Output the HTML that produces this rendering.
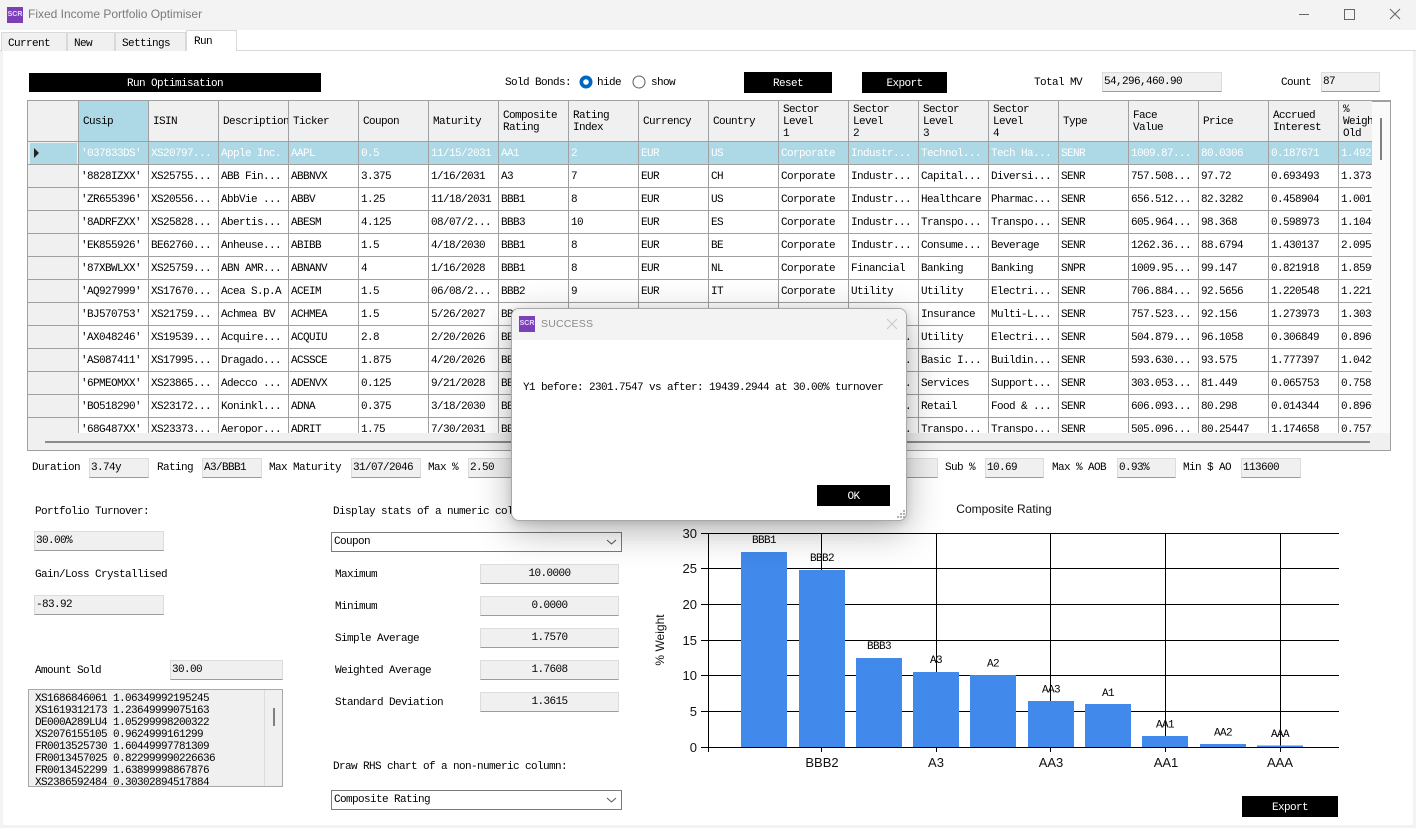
<!DOCTYPE html>
<html><head><meta charset="utf-8">
<style>
*{margin:0;padding:0;box-sizing:border-box}
html,body{width:1416px;height:828px;overflow:hidden;background:#fff;position:relative}
.t{position:absolute;font-family:"Liberation Mono",monospace;font-size:11px;letter-spacing:-0.6px;line-height:12px;padding-top:1px;white-space:pre;color:#000}
.btn{position:absolute;background:#000;color:#fff;font-family:"Liberation Mono",monospace;font-size:11px;letter-spacing:-0.6px;display:flex;align-items:center;justify-content:center;white-space:pre;padding-top:2px}
.vb{position:absolute;background:#f0f0f0;border:1px solid #dcdcdc;border-bottom:1px solid #9c9c9c;font-family:"Liberation Mono",monospace;font-size:11px;letter-spacing:-0.6px;line-height:19px;padding-left:1px;white-space:pre;color:#000}
.vbc{text-align:center;padding-left:0}
.tab{position:absolute;background:#f0f0f0;border:1px solid #d9d9d9;border-bottom:none;font-family:"Liberation Mono",monospace;font-size:11px;letter-spacing:-0.6px;line-height:12px;white-space:pre}
.grid{position:absolute;left:28px;top:101px;width:1344px;height:332px;overflow:hidden;background:#fff}
.r{display:flex;height:23px;flex:none}
.r>div{flex:none;width:70px;height:23px;border-right:1px solid #a0a0a0;border-bottom:1px solid #a0a0a0;font-family:"Liberation Mono",monospace;font-size:11px;letter-spacing:-0.6px;line-height:24px;padding-left:2px;white-space:pre;overflow:hidden;color:#000}
.r>div.h{width:51px;background:#f0f0f0;padding:0}
.r.sel>div{background:#add8e6;color:#fff}
.r.sel>div.h{background:#f0f0f0;position:relative}
.hd{display:flex;height:41px}
.hd>div{flex:none;width:70px;height:41px;border-right:1px solid #a0a0a0;border-bottom:1px solid #a0a0a0;background:#f0f0f0;font-family:"Liberation Mono",monospace;font-size:11px;letter-spacing:-0.6px;line-height:11.7px;padding-left:4px;padding-top:4px;white-space:pre;overflow:hidden;display:flex;align-items:center}
.hd>div.h{width:51px;padding:0}
.combo{position:absolute;background:#fff;border:1px solid #7a7a7a;font-family:"Liberation Mono",monospace;font-size:11px;letter-spacing:-0.6px;line-height:19px;padding-left:2px;white-space:pre}
</style></head><body>

<!-- title bar -->
<div style="position:absolute;left:0;top:0;width:1416px;height:30px;background:#f3f3f3"></div>
<div style="position:absolute;left:7px;top:7px;width:16px;height:16px;background:#7b3fb8;color:#e8d8ff;font:bold 7px 'Liberation Sans',sans-serif;line-height:16px;text-align:center">SCR</div>
<div style="position:absolute;left:28px;top:7px;font:12px 'Liberation Sans',sans-serif;color:#7a7a7a;white-space:pre">Fixed Income Portfolio Optimiser</div>
<svg style="position:absolute;left:0;top:0" width="1416" height="30">
<line x1="1299" y1="14.5" x2="1309" y2="14.5" stroke="#666" stroke-width="1"/>
<rect x="1344.5" y="9.5" width="10" height="10" fill="none" stroke="#666" stroke-width="1"/>
<path d="M1390 9 L1400 19 M1400 9 L1390 19" stroke="#666" stroke-width="1"/>
</svg>

<!-- tabs -->
<div style="position:absolute;left:0;top:50px;width:1416px;height:1px;background:#d9d9d9"></div>
<div style="position:absolute;left:0;top:51px;width:3px;height:777px;background:#f3f3f3"></div>
<div style="position:absolute;left:1413px;top:51px;width:3px;height:777px;background:#f3f3f3"></div>
<div style="position:absolute;left:0;top:825px;width:1416px;height:3px;background:#f3f3f3"></div>
<div class="tab" style="left:1px;top:32px;width:66px;height:19px;padding:5px 0 0 6px">Current</div>
<div class="tab" style="left:67px;top:32px;width:48px;height:19px;padding:5px 0 0 6px">New</div>
<div class="tab" style="left:115px;top:32px;width:71px;height:19px;padding:5px 0 0 6px">Settings</div>
<div class="tab" style="left:186px;top:30px;width:51px;height:21px;padding:5px 0 0 7px;background:#fff">Run</div>

<!-- top controls -->
<div class="btn" style="left:29px;top:73px;width:292px;height:19px">Run Optimisation</div>
<div class="t" style="left:505px;top:76px">Sold Bonds:</div>
<svg style="position:absolute;left:578px;top:74px" width="80" height="16">
<circle cx="8" cy="8" r="6.5" fill="#0067c0"/><circle cx="8" cy="8" r="2.8" fill="#fff"/>
<circle cx="61" cy="8" r="6" fill="#fff" stroke="#5c5c5c" stroke-width="1"/>
</svg>
<div class="t" style="left:597px;top:76px">hide</div>
<div class="t" style="left:651px;top:76px">show</div>
<div class="btn" style="left:744px;top:72px;width:88px;height:21px">Reset</div>
<div class="btn" style="left:862px;top:72px;width:85px;height:21px">Export</div>
<div class="t" style="left:1034px;top:76px">Total MV</div>
<div class="vb" style="left:1102px;top:72px;width:120px;height:20px">54,296,460.90</div>
<div class="t" style="left:1281px;top:76px">Count</div>
<div class="vb" style="left:1321px;top:72px;width:59px;height:20px">87</div>

<!-- grid frame -->
<div style="position:absolute;left:27px;top:100px;width:1364px;height:351px;border:1px solid #a0a0a0;border-top:2px solid #a0a0a0;background:#f0f0f0"></div>
<div style="position:absolute;left:1372px;top:102px;width:18px;height:331px;background:#fafafa"></div>
<div style="position:absolute;left:1380px;top:118px;width:2px;height:42px;background:#808080"></div>
<div style="position:absolute;left:45px;top:441px;width:1325px;height:2px;background:#8c8c8c"></div>

<div class="grid">
<div class="hd"><div class="h"></div><div style="background:#add8e6">Cusip</div><div>ISIN</div><div>Description</div><div>Ticker</div><div>Coupon</div><div>Maturity</div><div>Composite
Rating</div><div>Rating
Index</div><div>Currency</div><div>Country</div><div>Sector
Level
1</div><div>Sector
Level
2</div><div>Sector
Level
3</div><div>Sector
Level
4</div><div>Type</div><div>Face
Value</div><div>Price</div><div>Accrued
Interest</div><div>%
Weight
Old</div></div>
<div class="r sel"><div class="h"><div style="position:absolute;left:2px;top:1px;width:47px;height:21px;background:#add8e6"></div><div style="position:absolute;left:6px;top:6px;width:0;height:0;border-left:5px solid #222;border-top:5px solid transparent;border-bottom:5px solid transparent"></div></div><div>'037833DS'</div><div>XS20797...</div><div>Apple Inc.</div><div>AAPL</div><div>0.5</div><div>11/15/2031</div><div>AA1</div><div>2</div><div>EUR</div><div>US</div><div>Corporate</div><div>Industr...</div><div>Technol...</div><div>Tech Ha...</div><div>SENR</div><div>1009.87...</div><div>80.0306</div><div>0.187671</div><div>1.492</div></div>
<div class="r"><div class="h"></div><div>'8828IZXX'</div><div>XS25755...</div><div>ABB Fin...</div><div>ABBNVX</div><div>3.375</div><div>1/16/2031</div><div>A3</div><div>7</div><div>EUR</div><div>CH</div><div>Corporate</div><div>Industr...</div><div>Capital...</div><div>Diversi...</div><div>SENR</div><div>757.508...</div><div>97.72</div><div>0.693493</div><div>1.373</div></div>
<div class="r"><div class="h"></div><div>'ZR655396'</div><div>XS20556...</div><div>AbbVie ...</div><div>ABBV</div><div>1.25</div><div>11/18/2031</div><div>BBB1</div><div>8</div><div>EUR</div><div>US</div><div>Corporate</div><div>Industr...</div><div>Healthcare</div><div>Pharmac...</div><div>SENR</div><div>656.512...</div><div>82.3282</div><div>0.458904</div><div>1.001</div></div>
<div class="r"><div class="h"></div><div>'8ADRFZXX'</div><div>XS25828...</div><div>Abertis...</div><div>ABESM</div><div>4.125</div><div>08/07/2...</div><div>BBB3</div><div>10</div><div>EUR</div><div>ES</div><div>Corporate</div><div>Industr...</div><div>Transpo...</div><div>Transpo...</div><div>SENR</div><div>605.964...</div><div>98.368</div><div>0.598973</div><div>1.1049</div></div>
<div class="r"><div class="h"></div><div>'EK855926'</div><div>BE62760...</div><div>Anheuse...</div><div>ABIBB</div><div>1.5</div><div>4/18/2030</div><div>BBB1</div><div>8</div><div>EUR</div><div>BE</div><div>Corporate</div><div>Industr...</div><div>Consume...</div><div>Beverage</div><div>SENR</div><div>1262.36...</div><div>88.6794</div><div>1.430137</div><div>2.095</div></div>
<div class="r"><div class="h"></div><div>'87XBWLXX'</div><div>XS25759...</div><div>ABN AMR...</div><div>ABNANV</div><div>4</div><div>1/16/2028</div><div>BBB1</div><div>8</div><div>EUR</div><div>NL</div><div>Corporate</div><div>Financial</div><div>Banking</div><div>Banking</div><div>SNPR</div><div>1009.95...</div><div>99.147</div><div>0.821918</div><div>1.8599</div></div>
<div class="r"><div class="h"></div><div>'AQ927999'</div><div>XS17670...</div><div>Acea S.p.A</div><div>ACEIM</div><div>1.5</div><div>06/08/2...</div><div>BBB2</div><div>9</div><div>EUR</div><div>IT</div><div>Corporate</div><div>Utility</div><div>Utility</div><div>Electri...</div><div>SENR</div><div>706.884...</div><div>92.5656</div><div>1.220548</div><div>1.221</div></div>
<div class="r"><div class="h"></div><div>'BJ570753'</div><div>XS21759...</div><div>Achmea BV</div><div>ACHMEA</div><div>1.5</div><div>5/26/2027</div><div>BBB1</div><div>8</div><div>EUR</div><div>NL</div><div>Corporate</div><div>Financial</div><div>Insurance</div><div>Multi-L...</div><div>SENR</div><div>757.523...</div><div>92.156</div><div>1.273973</div><div>1.3039</div></div>
<div class="r"><div class="h"></div><div>'AX048246'</div><div>XS19539...</div><div>Acquire...</div><div>ACQUIU</div><div>2.8</div><div>2/20/2026</div><div>BBB2</div><div>9</div><div>EUR</div><div>ES</div><div>Corporate</div><div>Industr...</div><div>Utility</div><div>Electri...</div><div>SENR</div><div>504.879...</div><div>96.1058</div><div>0.306849</div><div>0.8969</div></div>
<div class="r"><div class="h"></div><div>'AS087411'</div><div>XS17995...</div><div>Dragado...</div><div>ACSSCE</div><div>1.875</div><div>4/20/2026</div><div>BBB2</div><div>9</div><div>EUR</div><div>ES</div><div>Corporate</div><div>Industr...</div><div>Basic I...</div><div>Buildin...</div><div>SENR</div><div>593.630...</div><div>93.575</div><div>1.777397</div><div>1.0429</div></div>
<div class="r"><div class="h"></div><div>'6PMEOMXX'</div><div>XS23865...</div><div>Adecco ...</div><div>ADENVX</div><div>0.125</div><div>9/21/2028</div><div>BBB1</div><div>8</div><div>EUR</div><div>CH</div><div>Corporate</div><div>Industr...</div><div>Services</div><div>Support...</div><div>SENR</div><div>303.053...</div><div>81.449</div><div>0.065753</div><div>0.758</div></div>
<div class="r"><div class="h"></div><div>'BO518290'</div><div>XS23172...</div><div>Koninkl...</div><div>ADNA</div><div>0.375</div><div>3/18/2030</div><div>BBB1</div><div>8</div><div>EUR</div><div>NL</div><div>Corporate</div><div>Industr...</div><div>Retail</div><div>Food &amp; ...</div><div>SENR</div><div>606.093...</div><div>80.298</div><div>0.014344</div><div>0.8969</div></div>
<div class="r"><div class="h"></div><div>'68G487XX'</div><div>XS23373...</div><div>Aeropor...</div><div>ADRIT</div><div>1.75</div><div>7/30/2031</div><div>BBB2</div><div>9</div><div>EUR</div><div>IT</div><div>Corporate</div><div>Industr...</div><div>Transpo...</div><div>Transpo...</div><div>SENR</div><div>505.096...</div><div>80.25447</div><div>1.174658</div><div>0.7579</div></div>
</div>

<!-- stats row -->
<div class="t" style="left:32px;top:461px">Duration</div>
<div class="vb" style="left:89px;top:458px;width:60px;height:20px">3.74y</div>
<div class="t" style="left:157px;top:461px">Rating</div>
<div class="vb" style="left:202px;top:458px;width:60px;height:20px">A3/BBB1</div>
<div class="t" style="left:269px;top:461px">Max Maturity</div>
<div class="vb" style="left:351px;top:458px;width:70px;height:20px">31/07/2046</div>
<div class="t" style="left:428px;top:461px">Max %</div>
<div class="vb" style="left:468px;top:458px;width:60px;height:20px">2.50</div>
<div class="vb" style="left:860px;top:458px;width:78px;height:20px"></div>
<div class="t" style="left:945px;top:461px">Sub %</div>
<div class="vb" style="left:985px;top:458px;width:59px;height:20px">10.69</div>
<div class="t" style="left:1052px;top:461px">Max % AOB</div>
<div class="vb" style="left:1117px;top:458px;width:59px;height:20px">0.93%</div>
<div class="t" style="left:1183px;top:461px">Min $ AO</div>
<div class="vb" style="left:1241px;top:458px;width:60px;height:20px">113600</div>

<!-- left panel -->
<div class="t" style="left:35px;top:505px">Portfolio Turnover:</div>
<div class="vb" style="left:34px;top:531px;width:130px;height:20px">30.00%</div>
<div class="t" style="left:35px;top:568px">Gain/Loss Crystallised</div>
<div class="vb" style="left:34px;top:595px;width:130px;height:20px">-83.92</div>
<div class="t" style="left:35px;top:664px">Amount Sold</div>
<div class="vb" style="left:170px;top:660px;width:113px;height:20px">30.00</div>
<div style="position:absolute;left:28px;top:689px;width:255px;height:98px;background:#f0f0f0;border:1px solid #a8a8a8;overflow:hidden">
<div style="position:absolute;left:235px;top:0;width:1px;height:98px;background:#dcdcdc"></div>
<div style="position:absolute;left:244px;top:18px;width:2px;height:18px;background:#808080"></div>
<div class="t" style="left:6px;top:2px;line-height:12px">XS1686846061 1.06349992195245
XS1619312173 1.23649999075163
DE000A289LU4 1.05299998200322
XS2076155105 0.9624999161299
FR0013525730 1.60449997781309
FR0013457025 0.822999990226636
FR0013452299 1.63899998867876
XS2386592484 0.30302894517884</div>
</div>

<!-- middle panel -->
<div class="t" style="left:333px;top:505px">Display stats of a numeric column:</div>
<div class="combo" style="left:331px;top:532px;width:291px;height:20px">Coupon</div>
<svg style="position:absolute;left:606px;top:538px" width="12" height="8"><polyline points="1,2 5.5,6 10,2" fill="none" stroke="#555" stroke-width="1"/></svg>
<div class="t" style="left:335px;top:568px">Maximum</div>
<div class="vb vbc" style="left:480px;top:564px;width:139px;height:20px">10.0000</div>
<div class="t" style="left:335px;top:600px">Minimum</div>
<div class="vb vbc" style="left:480px;top:596px;width:139px;height:20px">0.0000</div>
<div class="t" style="left:335px;top:632px">Simple Average</div>
<div class="vb vbc" style="left:480px;top:628px;width:139px;height:20px">1.7570</div>
<div class="t" style="left:335px;top:664px">Weighted Average</div>
<div class="vb vbc" style="left:480px;top:660px;width:139px;height:20px">1.7608</div>
<div class="t" style="left:335px;top:696px">Standard Deviation</div>
<div class="vb vbc" style="left:480px;top:692px;width:139px;height:20px">1.3615</div>
<div class="t" style="left:333px;top:760px">Draw RHS chart of a non-numeric column:</div>
<div class="combo" style="left:331px;top:790px;width:291px;height:20px">Composite Rating</div>
<svg style="position:absolute;left:606px;top:796px" width="12" height="8"><polyline points="1,2 5.5,6 10,2" fill="none" stroke="#555" stroke-width="1"/></svg>

<!-- chart -->
<svg style="position:absolute;left:0;top:0" width="1416" height="828">
<text x="1004" y="513" text-anchor="middle" font-family="Liberation Sans,sans-serif" font-size="12" fill="#111">Composite Rating</text>
<g stroke="#000" stroke-width="1" shape-rendering="crispEdges">
<line x1="701" y1="533.5" x2="1339" y2="533.5"/>
<line x1="701" y1="568.5" x2="1339" y2="568.5"/>
<line x1="701" y1="604.5" x2="1339" y2="604.5"/>
<line x1="701" y1="640.5" x2="1339" y2="640.5"/>
<line x1="701" y1="675.5" x2="1339" y2="675.5"/>
<line x1="701" y1="711.5" x2="1339" y2="711.5"/>
<line x1="701" y1="747.5" x2="1339" y2="747.5"/>
<line x1="708.5" y1="533" x2="708.5" y2="752"/>
<line x1="821.5" y1="533" x2="821.5" y2="752"/>
<line x1="936.5" y1="533" x2="936.5" y2="752"/>
<line x1="1050.5" y1="533" x2="1050.5" y2="752"/>
<line x1="1165.5" y1="533" x2="1165.5" y2="752"/>
<line x1="1280.5" y1="533" x2="1280.5" y2="752"/>
</g>
<g fill="#4189ea" shape-rendering="crispEdges">
<rect x="741" y="552" width="46" height="195"/>
<rect x="799" y="570" width="46" height="177"/>
<rect x="856" y="658" width="46" height="89"/>
<rect x="913" y="672" width="46" height="75"/>
<rect x="970" y="675" width="46" height="72"/>
<rect x="1028" y="701" width="46" height="46"/>
<rect x="1085" y="704" width="46" height="43"/>
<rect x="1142" y="736" width="46" height="11"/>
<rect x="1200" y="744" width="46" height="3"/>
<rect x="1257" y="745.5" width="46" height="1.5"/>
</g>
<g font-family="Liberation Mono,monospace" font-size="11" letter-spacing="-0.6" text-anchor="middle" fill="#000">
<text x="764" y="543">BBB1</text>
<text x="822" y="561">BBB2</text>
<text x="879" y="649">BBB3</text>
<text x="936" y="663">A3</text>
<text x="993" y="666.5">A2</text>
<text x="1051" y="692.5">AA3</text>
<text x="1108" y="696">A1</text>
<text x="1165" y="727.5">AA1</text>
<text x="1223" y="735.5">AA2</text>
<text x="1280" y="737">AAA</text>
</g>
<g font-family="Liberation Sans,sans-serif" font-size="13" fill="#111" text-anchor="end">
<text x="697" y="538">30</text>
<text x="697" y="573">25</text>
<text x="697" y="609">20</text>
<text x="697" y="645">15</text>
<text x="697" y="680">10</text>
<text x="697" y="716">5</text>
<text x="697" y="752">0</text>
</g>
<g font-family="Liberation Sans,sans-serif" font-size="13" fill="#111" text-anchor="middle">
<text x="822" y="767">BBB2</text>
<text x="936" y="767">A3</text>
<text x="1051" y="767">AA3</text>
<text x="1166" y="767">AA1</text>
<text x="1280" y="767">AAA</text>
</g>
<text transform="translate(664,640) rotate(-90)" text-anchor="middle" font-family="Liberation Sans,sans-serif" font-size="12" fill="#111">% Weight</text>
</svg>
<div class="btn" style="left:1242px;top:796px;width:96px;height:21px">Export</div>

<!-- dialog -->
<div style="position:absolute;left:511px;top:308px;width:396px;height:213px;border-radius:8px;background:#fff;border:1px solid #a8a8a8;box-shadow:0 10px 36px rgba(0,0,0,0.30),0 2px 8px rgba(0,0,0,0.12);overflow:hidden">
<div style="position:absolute;left:0;top:0;width:396px;height:31px;background:#f3f3f3"></div>
<div style="position:absolute;left:7px;top:7px;width:16px;height:16px;background:#7b3fb8;color:#e8d8ff;font:bold 7px 'Liberation Sans',sans-serif;line-height:16px;text-align:center">SCR</div>
<div style="position:absolute;left:29px;top:9px;font:10.5px 'Liberation Sans',sans-serif;color:#8a8a8a;letter-spacing:0.2px">SUCCESS</div>
<svg style="position:absolute;left:374px;top:9px" width="12" height="12"><path d="M1 1 L11 11 M11 1 L1 11" stroke="#c8c8c8" stroke-width="1"/></svg>
<div class="t" style="left:11px;top:72px">Y1 before: 2301.7547 vs after: 19439.2944 at 30.00% turnover</div>
<div class="btn" style="left:305px;top:176px;width:73px;height:21px">OK</div>
<svg style="position:absolute;left:384px;top:200px" width="10" height="10" fill="#b0b0b0"><rect x="7" y="1" width="2" height="2"/><rect x="4" y="4" width="2" height="2"/><rect x="7" y="4" width="2" height="2"/><rect x="1" y="7" width="2" height="2"/><rect x="4" y="7" width="2" height="2"/><rect x="7" y="7" width="2" height="2"/></svg>
</div>

</body></html>
